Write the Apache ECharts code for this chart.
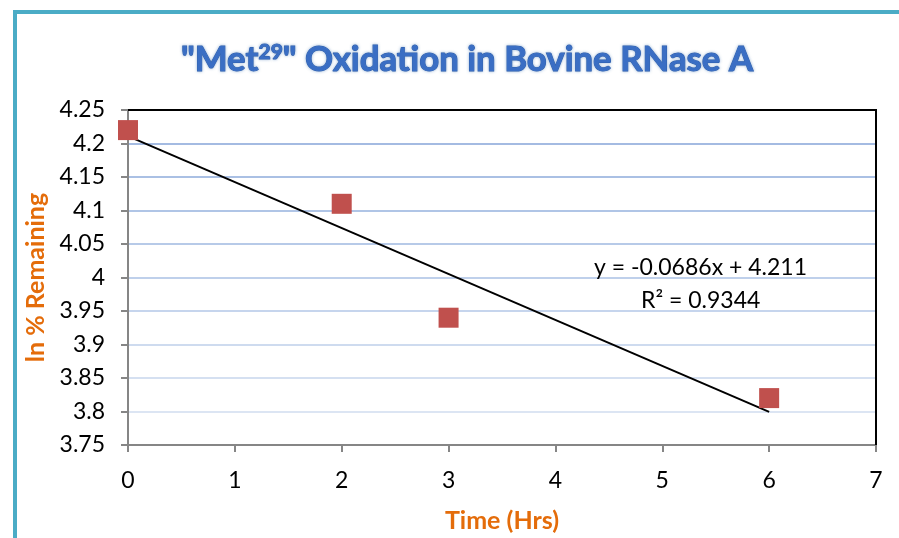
<!DOCTYPE html>
<html>
<head>
<meta charset="utf-8">
<script src="https://cdn.jsdelivr.net/npm/echarts@6/dist/echarts.min.js"></script>
<style>
  html, body { margin: 0; padding: 0; background: #ffffff; }
  #chart { width: 899px; height: 538px; }
</style>
</head>
<body>
<div id="chart"></div>
<script>
// Measured ln(% remaining) of Met29 over time
const timeHrs = [0, 2, 3, 6];
const lnRemaining = [4.22, 4.11, 3.94, 3.82];

// Linear fit as reported on the chart
const fitSlope = -0.0686;
const fitIntercept = 4.211;
const fitRange = [0, 6];
const fitR2 = '0.9344';

const xTicks = { min: 0, max: 7, interval: 1 };
const yTicks = { min: 3.75, max: 4.25, interval: 0.05 };

// Gridline shades, fading from top to bottom of the plot
const gridShades = ['#ffffff', '#dce5f3', '#d5e0f1', '#cedbef', '#c6d5ed', '#bfd0eb',
                    '#b7cae8', '#b0c5e6', '#aac0e4', '#a4bbe2', '#ffffff'];

const scatterData = timeHrs.map((t, i) => [t, lnRemaining[i]]);
const fitData = fitRange.map(t => [t, fitSlope * t + fitIntercept]);

const chart = echarts.init(document.getElementById('chart'), null, { renderer: 'canvas' });

const tickFont = { fontFamily: 'Lato', fontSize: 23, color: '#000000' };
const axisGray = '#868686';
const titleBase = {
  fontFamily: 'Lato', fontWeight: 'bold', color: '#3a6ec4',
  textBorderColor: '#2656a6', textBorderWidth: 1,
  textShadowColor: 'rgba(79,129,189,0.5)', textShadowBlur: 3
};

chart.setOption({
  animation: false,
  backgroundColor: '#ffffff',
  title: {
    text: '{q|"Met}{sup|29}{q|" Oxidation in Bovine RNase A}',
    left: 176,
    top: 37,
    textStyle: {
      rich: {
        q: Object.assign({ fontSize: 34.8 }, titleBase),
        sup: Object.assign({ fontSize: 21, verticalAlign: 'top', padding: [0, 0, 12, 0] }, titleBase)
      }
    }
  },
  grid: { left: 128, right: 23, top: 110, bottom: 93, containLabel: false },
  xAxis: {
    type: 'value',
    min: xTicks.min, max: xTicks.max, interval: xTicks.interval,
    name: 'Time (Hrs)',
    nameLocation: 'middle',
    nameGap: 63,
    nameTextStyle: { fontFamily: 'Lato', fontWeight: 'bold', fontSize: 25, color: '#e46c0a' },
    axisLine: { show: true, onZero: false, lineStyle: { color: axisGray, width: 2 } },
    axisTick: { show: true, inside: false, length: 7, lineStyle: { color: axisGray, width: 2 } },
    axisLabel: Object.assign({ margin: 24 }, tickFont),
    splitLine: { show: false }
  },
  yAxis: {
    type: 'value',
    min: yTicks.min, max: yTicks.max, interval: yTicks.interval,
    name: 'ln % Remaining',
    nameLocation: 'middle',
    nameGap: 78,
    nameTextStyle: { fontFamily: 'Lato', fontWeight: 'bold', fontSize: 25, color: '#e46c0a' },
    axisLine: { show: true, onZero: false, lineStyle: { color: axisGray, width: 2 } },
    axisTick: { show: true, inside: false, length: 7, lineStyle: { color: axisGray, width: 2 } },
    axisLabel: Object.assign({ margin: 23, formatter: v => String(Math.round(v * 100) / 100) }, tickFont),
    splitLine: { show: true, lineStyle: { color: gridShades, width: 2 } }
  },
  graphic: [
    {
      type: 'rect',
      shape: { x: 15, y: 12, width: 1000, height: 1000 },
      style: { fill: 'none', stroke: '#4bacc6', lineWidth: 4 },
      z: 100
    },
    {
      // plot-area frame on top and right
      type: 'polyline',
      shape: { points: [[128, 110], [876, 110], [876, 445]] },
      style: { fill: 'none', stroke: '#000000', lineWidth: 2 },
      z: 5
    },
    {
      type: 'text',
      left: 594, top: 256,
      style: {
        text: 'y = ' + fitSlope.toFixed(4) + 'x + ' + fitIntercept.toFixed(3),
        fontFamily: 'Lato', fontSize: 23, fill: '#000000'
      },
      z: 10
    },
    {
      type: 'text',
      left: 641, top: 289,
      style: {
        text: 'R² = ' + fitR2,
        fontFamily: 'Lato', fontSize: 23, fill: '#000000'
      },
      z: 10
    }
  ],
  series: [
    {
      type: 'line',
      data: fitData,
      symbol: 'none',
      lineStyle: { color: '#000000', width: 2 },
      z: 3,
      silent: true
    },
    {
      type: 'scatter',
      data: scatterData,
      symbol: 'rect',
      symbolSize: 20,
      itemStyle: { color: '#c0504d', opacity: 1 },
      z: 4
    }
  ]
});
</script>
</body>
</html>
